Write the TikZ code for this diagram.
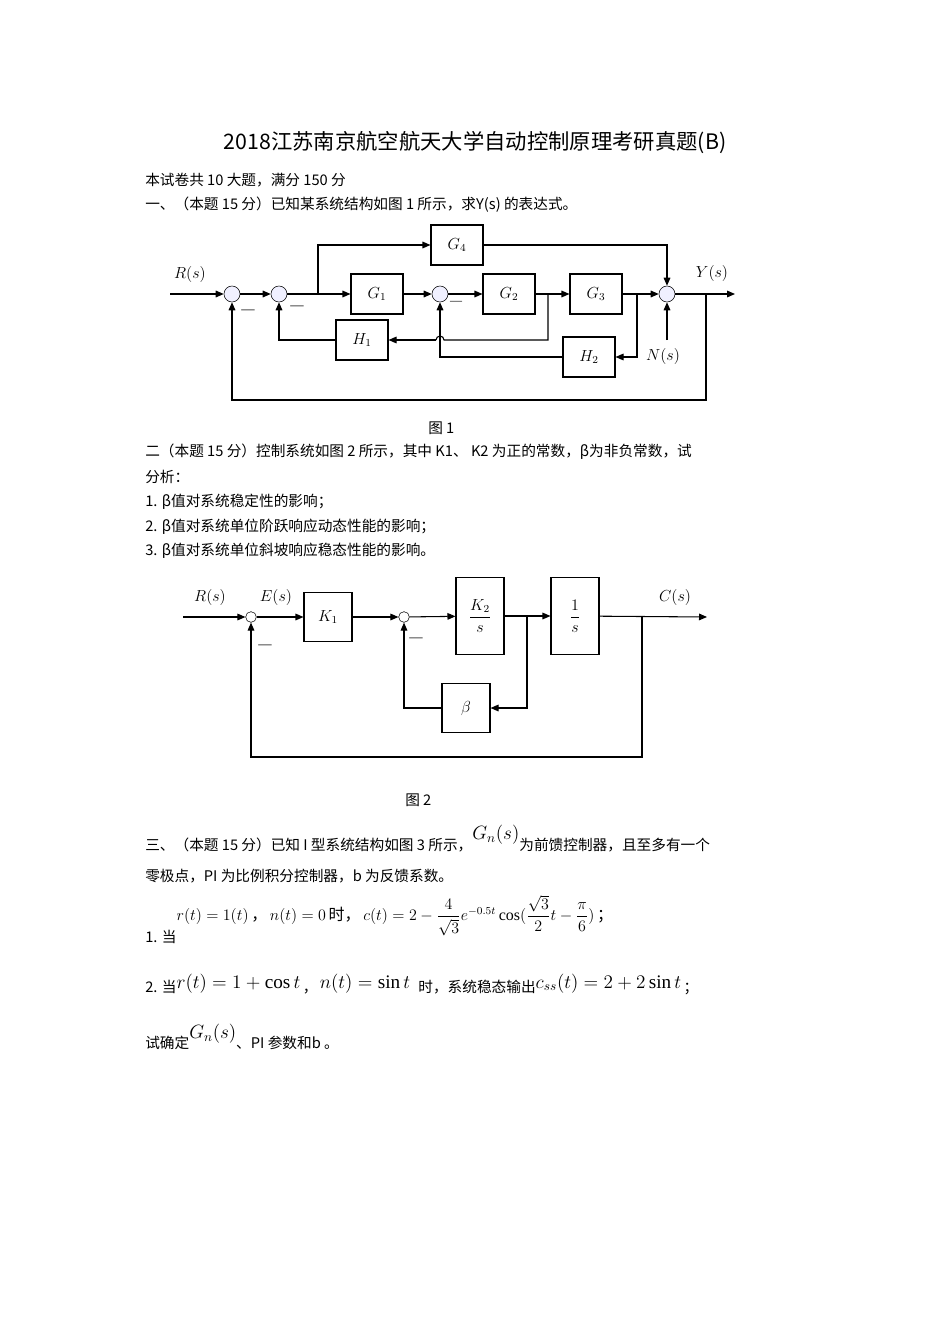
\documentclass[tikz,border=0pt]{standalone}
\usepackage{amsmath}
\usepackage{fontspec}
\setmainfont{Liberation Serif}
\newfontfamily\cjk{Noto Sans CJK SC}
\usetikzlibrary{arrows.meta}
\begin{document}
\begin{tikzpicture}[x=0.75pt,y=-0.75pt,
  blk/.style={draw,thick,minimum width=39pt,minimum height=30pt,inner sep=0pt,font=\large},
  blkb/.style={draw,thick,minimum width=36pt,minimum height=58pt,inner sep=0pt,font=\large},
  blkc/.style={draw,thick,minimum width=36pt,minimum height=37pt,inner sep=0pt,font=\large},
  sumA/.style={draw,circle,fill=blue!6,minimum size=12pt,inner sep=0pt},
  sumB/.style={draw,circle,minimum size=8pt,inner sep=0pt},
  ar/.style={-{Triangle[length=6pt,width=5pt]},thick},
  ln/.style={thick},
  txt/.style={anchor=west,inner sep=0pt,font=\cjk\fontsize{11}{13}\selectfont},
  lab/.style={font=\large}]
\useasboundingbox (0,0) rectangle (950,1344);
\node[font=\cjk\fontsize{16}{19}\selectfont] (title) at (475,143) {2018江苏南京航空航天大学自动控制原理考研真题(B)};
\node[txt] (l1) at (145,180) {本试卷共 10 大题，满分 150 分};
\node[txt] (l2) at (145,205) {一、（本题 15 分）已知某系统结构如图 1 所示，求Y(s) 的表达式。};
% diagram 1
\node[sumA] (s1) at (232,294) {};
\node[sumA] (s2) at (279,294) {};
\node[sumA] (s4) at (440,294) {};
\node[sumA] (s3) at (667,294) {};
\node[blk] (g4) at (457,245) {$G_4$};
\node[blk] (g1) at (377,294) {$G_1$};
\node[blk] (g2) at (509,294) {$G_2$};
\node[blk] (g3) at (596,294) {$G_3$};
\node[blk] (h1) at (362,340) {$H_1$};
\node[blk] (h2) at (589,357) {$H_2$};
\coordinate (in1) at (170,294);
\coordinate (out1) at (735,294);
\coordinate (b1) at (318,294);
\coordinate (b2) at (548,294);
\coordinate (b3) at (637,294);
\coordinate (b4) at (706,294);
\coordinate (nn) at (667,340);
\node[lab] (R1) at (190,275) {$R(s)$};
\node[lab] (Y1) at (712,274) {$Y(s)$};
\node[lab] (N1) at (663,356) {$N(s)$};
\draw[ar] (in1) -- (s1);
\draw[ar] (s1) -- (s2);
\draw[ar] (s2) -- (g1);
\draw[ar] (b1) |- (g4);
\draw[ar] (g4) -| (s3);
\draw[ar] (g1) -- (s4);
\draw[ar] (s4) -- (g2);
\draw[ar] (g2) -- (g3);
\draw[ar] (g3) -- (s3);
\draw[ar] (s3) -- (out1);
\draw[ar] (nn) -- (s3);
\draw[ln] (b2) -- (548,340) -- (444,340) arc[start angle=0,end angle=180,radius=3pt] -- (436,340);
\draw[ar] (436,340) -- (h1);
\draw[ar] (h1) -| (s2);
\draw[ar] (b3) |- (h2);
\draw[ar] (h2) -| (s4);
\draw[ar] (b4) -- (706,400) -| (s1);
\node (m1) at (248,312) {---};
\node (m2) at (297,308) {---};
\node (m3) at (456,303) {\small ---};
\node[txt] (f1) at (428,428) {图 1};
\node[txt] (l3) at (145,452) {二（本题 15 分）控制系统如图 2 所示，其中 K1、 K2 为正的常数，β为非负常数，试};
\node[txt] (l4) at (145,477) {分析：};
\node[txt] (l5) at (145,502) {1. β值对系统稳定性的影响；};
\node[txt] (l6) at (145,527) {2. β值对系统单位阶跃响应动态性能的影响；};
\node[txt] (l7) at (145,551) {3. β值对系统单位斜坡响应稳态性能的影响。};
% diagram 2
\node[sumB] (t1) at (251,617) {};
\node[sumB] (t2) at (404,617) {};
\node[blkc] (k1) at (328,617) {$K_1$};
\node[blkb] (k2) at (480,616) {$\dfrac{K_2}{s}$};
\node[blkb] (is) at (575,616) {$\dfrac{1}{s}$};
\node[blkc] (be) at (466,708) {$\beta$};
\coordinate (in2) at (183,617);
\coordinate (out2) at (707,617);
\coordinate (c1) at (527,617);
\coordinate (c2) at (642,617);
\node[lab] (R2) at (210,597) {$R(s)$};
\node[lab] (E2) at (276,597) {$E(s)$};
\node[lab] (C2) at (675,597) {$C(s)$};
\draw[ar] (in2) -- (t1);
\draw[ar] (t1) -- (k1);
\draw[ar] (k1) -- (t2);
\draw[ar] (t2) -- (k2);
\draw[ar] (k2) -- (is);
\draw[ar] (is) -- (out2);
\draw[ar] (c1) |- (be);
\draw[ar] (be) -| (t2);
\draw[ar] (c2) -- (642,757) -| (t1);
\node (m4) at (265,647) {---};
\node (m5) at (416,640) {---};
\node[txt] (f2) at (405,800) {图 2};
\node[txt,anchor=base west] (l8) at (145,850) {三、（本题 15 分）已知 I 型系统结构如图 3 所示，\raisebox{8pt}{\Large$G_n(s)$}为前馈控制器，且至多有一个};
\node[txt] (l9) at (145,876) {零极点，PI 为比例积分控制器，b 为反馈系数。};
\node[txt,anchor=base west] (l10) at (145,942) {1. 当\raisebox{16pt}{\large$r(t)=1(t)$\,，\,$n(t)=0$\,时，\,$c(t)=2-\dfrac{4}{\sqrt3}e^{-0.5t}\cos(\dfrac{\sqrt3}{2}t-\dfrac{\pi}{6})$\,；}};
\node[txt,anchor=base west] (l11) at (145,992) {2. 当\raisebox{3pt}{\Large$r(t)=1+\cos t$}\,，\,\raisebox{3pt}{\Large$n(t)=\sin t$}\,\, 时，系统稳态输出\raisebox{3pt}{\Large$c_{ss}(t)=2+2\sin t$}\,；};
\node[txt,anchor=base west] (l12) at (145,1048) {试确定\raisebox{7pt}{\Large$G_n(s)$}、PI 参数和b 。};
\end{tikzpicture}
\end{document}
